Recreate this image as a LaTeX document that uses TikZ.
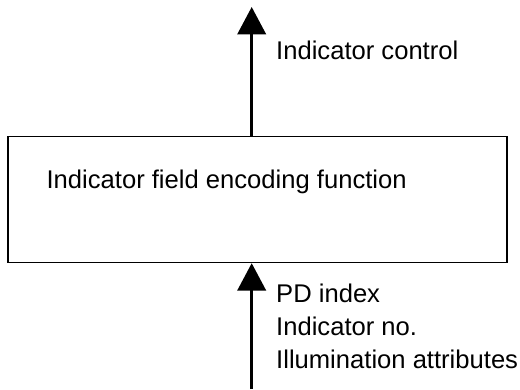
\documentclass[tikz,border=0pt]{standalone}
\usepackage{fontspec}
\setmainfont{Liberation Sans}
\usetikzlibrary{arrows.meta}
\begin{document}
\begin{tikzpicture}[x=1pt,y=1pt,
  lbl/.style={anchor=base west,inner sep=0pt,font=\fontsize{25.6}{30}\selectfont},
  flow/.style={line width=2.7pt,-{Triangle[length=27.5pt,width=28.5pt]}},
  funcbox/.style={draw,line width=1.2pt,minimum width=499pt,minimum height=126pt,inner sep=0pt}]
\useasboundingbox (0,0) rectangle (520,389);
% encoding function block
\node[funcbox] (enc) at (257.5,189.4) {};
\node[lbl] (enctext) at (46.4,200.7) {Indicator field encoding function};
% output
\coordinate (outtip) at (251.7,382);
\draw[flow] (enc.north -| outtip) -- (outtip);
\node[lbl] (outlbl) at (276,329) {Indicator control};
% inputs
\coordinate (insrc) at (251.7,0);
\draw[flow] (insrc) -- (enc.south -| insrc);
\node[lbl] (in1) at (276,86.7) {PD index};
\node[lbl] (in2) at (276,53.3) {Indicator no.};
\node[lbl] (in3) at (276,20.7) {Illumination attributes};
\end{tikzpicture}
\end{document}
